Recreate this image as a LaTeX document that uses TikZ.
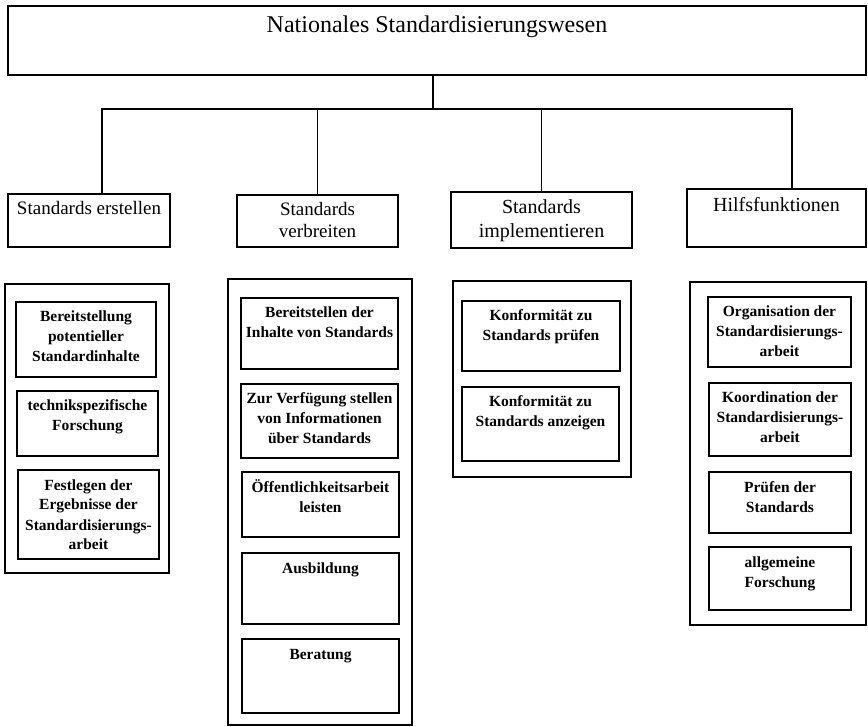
\documentclass[tikz,border=0pt]{standalone}
\usepackage{fontspec}
\setmainfont{Liberation Serif}
% box body: width, height, space above first line, text
\newcommand\cellbody[4]{\parbox[t][#2][t]{#1}{\centering\vspace*{#3}\strut#4\par}}
\begin{document}
\begin{tikzpicture}[x=1pt,y=-1pt,
  cell/.style={draw, line width=1.4pt, inner sep=0pt, outer sep=0pt, anchor=north west},
  titlebox/.style={cell, font=\fontsize{24}{28}\selectfont},
  head/.style={cell, font=\fontsize{19}{22}\selectfont},
  headlarge/.style={cell, font=\fontsize{20}{24}\selectfont},
  frame/.style={cell, line width=1.8pt},
  task/.style={cell, line width=1.9pt, font=\fontsize{15.5}{20}\selectfont\bfseries},
  conn/.style={line width=1.5pt}
]
\useasboundingbox (0,0) rectangle (868,727);

% top level
\node[titlebox] (top) at (8,6) {\cellbody{858pt}{69pt}{7.4pt}{Nationales Standardisierungswesen}};

% second level
\node[head] (b1) at (8,194) {\cellbody{162pt}{53pt}{5.6pt}{Standards erstellen}};
\node[head] (b2) at (237,195) {\cellbody{161pt}{52pt}{4.8pt}{Standards\\verbreiten}};
\node[headlarge] (b3) at (451,192) {\cellbody{181pt}{56pt}{5.2pt}{Standards\\implementieren}};
\node[headlarge] (b4) at (687,189) {\cellbody{179pt}{58pt}{6.2pt}{Hilfsfunktionen}};

% tree connectors
\coordinate (hub) at (433,109);
\coordinate (j1) at (102,109);
\coordinate (j4) at (792,109);
\draw[conn] (hub |- top.south) -- (hub);
\draw[conn] (j1 |- b1.north) -- (j1) -- (j4) -- (j4 |- b4.north);
\draw[conn] (b2.north) -- (b2.north |- hub);
\draw[conn] (b3.north) -- (b3.north |- hub);

% containers
\node[frame, minimum width=164pt, minimum height=289pt] (c1) at (5,284) {};
\node[frame, minimum width=184pt, minimum height=446pt] (c2) at (228,279) {};
\node[frame, minimum width=178pt, minimum height=196pt] (c3) at (453,281) {};
\node[frame, minimum width=176pt, minimum height=343pt] (c4) at (690,282) {};

% tasks: Standards erstellen
\node[task] (i11) at (16,302) {\cellbody{140pt}{75pt}{6pt}{Bereitstellung\\potentieller\\Standardinhalte}};
\node[task] (i12) at (17,391) {\cellbody{141pt}{65pt}{6pt}{technikspezifische\\Forschung}};
\node[task] (i13) at (18,470) {\cellbody{141pt}{89pt}{6pt}{Festlegen der\\Ergebnisse der\\Standardisierungs-\\arbeit}};

% tasks: Standards verbreiten
\node[task] (i21) at (241,298) {\cellbody{157pt}{71pt}{6pt}{Bereitstellen der\\Inhalte von Standards}};
\node[task] (i22) at (241,384) {\cellbody{157pt}{74pt}{6pt}{Zur Verfügung stellen\\von Informationen\\über Standards}};
\node[task] (i23) at (242,472) {\cellbody{157pt}{65pt}{6pt}{Öffentlichkeitsarbeit\\leisten}};
\node[task] (i24) at (242,553) {\cellbody{157pt}{71pt}{6pt}{Ausbildung}};
\node[task] (i25) at (242,639) {\cellbody{157pt}{74pt}{6pt}{Beratung}};

% tasks: Standards implementieren
\node[task] (i31) at (462,301) {\cellbody{158pt}{70pt}{6pt}{Konformität zu\\Standards prüfen}};
\node[task] (i32) at (462,387) {\cellbody{157pt}{74pt}{6pt}{Konformität zu\\Standards anzeigen}};

% tasks: Hilfsfunktionen
\node[task] (i41) at (708,297) {\cellbody{143pt}{70pt}{6pt}{Organisation der\\Standardisierungs-\\arbeit}};
\node[task] (i42) at (709,383) {\cellbody{142pt}{73pt}{6pt}{Koordination der\\Standardisierungs-\\arbeit}};
\node[task] (i43) at (709,472) {\cellbody{142pt}{61pt}{6pt}{Prüfen der\\Standards}};
\node[task] (i44) at (709,547) {\cellbody{142pt}{63pt}{6pt}{allgemeine\\Forschung}};
\end{tikzpicture}
\end{document}
